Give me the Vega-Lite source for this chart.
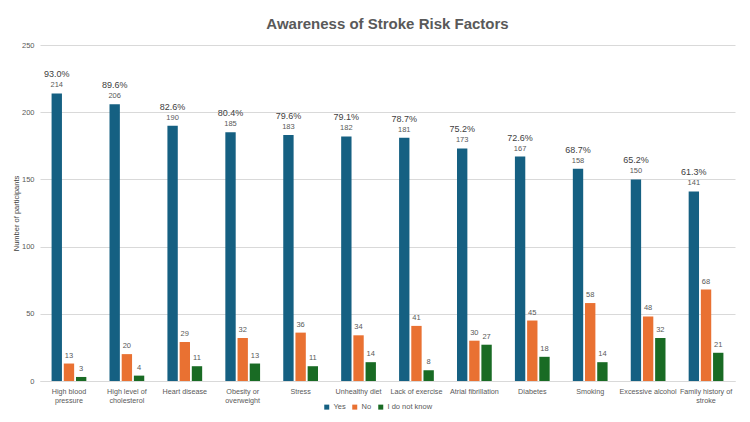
{
  "$schema": "https://vega.github.io/schema/vega-lite/v6.json",
  "width": 695,
  "height": 336,
  "autosize": "none",
  "padding": {"left": 40, "top": 45, "right": 15, "bottom": 41},
  "background": "white",
  "title": {"text": "Awareness of Stroke Risk Factors", "fontSize": 15, "font": "Liberation Sans", "fontWeight": "bold", "color": "#595959", "offset": 9},
  "config": {
    "view": {"stroke": null},
    "font": "Liberation Sans",
    "axis": {"labelColor": "#595959", "labelFont": "Liberation Sans", "titleFont": "Liberation Sans"}
  },
  "data": {"values": [
    {"factor": "High blood pressure", "response": "Yes", "count": 214, "pct": 0.930},
    {"factor": "High blood pressure", "response": "No", "count": 13},
    {"factor": "High blood pressure", "response": "I do not know", "count": 3},
    {"factor": "High level of cholesterol", "response": "Yes", "count": 206, "pct": 0.896},
    {"factor": "High level of cholesterol", "response": "No", "count": 20},
    {"factor": "High level of cholesterol", "response": "I do not know", "count": 4},
    {"factor": "Heart disease", "response": "Yes", "count": 190, "pct": 0.826},
    {"factor": "Heart disease", "response": "No", "count": 29},
    {"factor": "Heart disease", "response": "I do not know", "count": 11},
    {"factor": "Obesity or overweight", "response": "Yes", "count": 185, "pct": 0.804},
    {"factor": "Obesity or overweight", "response": "No", "count": 32},
    {"factor": "Obesity or overweight", "response": "I do not know", "count": 13},
    {"factor": "Stress", "response": "Yes", "count": 183, "pct": 0.796},
    {"factor": "Stress", "response": "No", "count": 36},
    {"factor": "Stress", "response": "I do not know", "count": 11},
    {"factor": "Unhealthy diet", "response": "Yes", "count": 182, "pct": 0.791},
    {"factor": "Unhealthy diet", "response": "No", "count": 34},
    {"factor": "Unhealthy diet", "response": "I do not know", "count": 14},
    {"factor": "Lack of exercise", "response": "Yes", "count": 181, "pct": 0.787},
    {"factor": "Lack of exercise", "response": "No", "count": 41},
    {"factor": "Lack of exercise", "response": "I do not know", "count": 8},
    {"factor": "Atrial fibrillation", "response": "Yes", "count": 173, "pct": 0.752},
    {"factor": "Atrial fibrillation", "response": "No", "count": 30},
    {"factor": "Atrial fibrillation", "response": "I do not know", "count": 27},
    {"factor": "Diabetes", "response": "Yes", "count": 167, "pct": 0.726},
    {"factor": "Diabetes", "response": "No", "count": 45},
    {"factor": "Diabetes", "response": "I do not know", "count": 18},
    {"factor": "Smoking", "response": "Yes", "count": 158, "pct": 0.687},
    {"factor": "Smoking", "response": "No", "count": 58},
    {"factor": "Smoking", "response": "I do not know", "count": 14},
    {"factor": "Excessive alcohol", "response": "Yes", "count": 150, "pct": 0.652},
    {"factor": "Excessive alcohol", "response": "No", "count": 48},
    {"factor": "Excessive alcohol", "response": "I do not know", "count": 32},
    {"factor": "Family history of stroke", "response": "Yes", "count": 141, "pct": 0.613},
    {"factor": "Family history of stroke", "response": "No", "count": 68},
    {"factor": "Family history of stroke", "response": "I do not know", "count": 21}
  ]},
  "encoding": {
    "x": {
      "field": "factor", "type": "nominal", "sort": null,
      "scale": {"paddingInner": 0.4, "paddingOuter": 0.2},
      "axis": {
        "title": null, "labelAngle": 0, "labelFontSize": 7.2, "labelPadding": 6,
        "ticks": false, "domainColor": "#d9d9d9", "labelLineHeight": 9.5,
        "labelExpr": "datum.value == 'High blood pressure' ? ['High blood', 'pressure'] : datum.value == 'High level of cholesterol' ? ['High level of', 'cholesterol'] : datum.value == 'Obesity or overweight' ? ['Obesity or', 'overweight'] : datum.value == 'Family history of stroke' ? ['Family history of', 'stroke'] : datum.value"
      }
    },
    "xOffset": {"field": "response", "type": "nominal", "sort": ["Yes", "No", "I do not know"], "scale": {"paddingInner": 0.15}},
    "y": {
      "field": "count", "type": "quantitative",
      "scale": {"domain": [0, 250]},
      "axis": {
        "title": "Number of participants", "titleFontSize": 7.5, "titleFontWeight": "normal", "titleColor": "#404040",
        "titlePadding": 1,
        "values": [0, 50, 100, 150, 200, 250], "labelFontSize": 7.5, "labelPadding": 6,
        "ticks": false, "domain": false, "gridColor": "#d9d9d9"
      }
    }
  },
  "layer": [
    {
      "mark": {"type": "bar"},
      "encoding": {
        "color": {
          "field": "response", "type": "nominal",
          "scale": {"domain": ["Yes", "No", "I do not know"], "range": ["#156082", "#E97132", "#196B24"]},
          "legend": {
            "title": null, "orient": "none", "direction": "horizontal",
            "legendX": 283, "legendY": 358, "symbolType": "square", "symbolSize": 25,
            "labelFontSize": 7.5, "labelColor": "#595959", "columnPadding": 5, "labelOffset": 3
          }
        }
      }
    },
    {
      "mark": {"type": "text", "dy": -8, "fontSize": 7.5, "color": "#595959", "baseline": "middle"},
      "encoding": {"text": {"field": "count", "type": "quantitative"}}
    },
    {
      "transform": [{"filter": "datum.response == 'Yes'"}],
      "mark": {"type": "text", "dy": -19, "fontSize": 9, "color": "#404040", "baseline": "middle"},
      "encoding": {"text": {"field": "pct", "type": "quantitative", "format": ".1%"}}
    }
  ]
}
